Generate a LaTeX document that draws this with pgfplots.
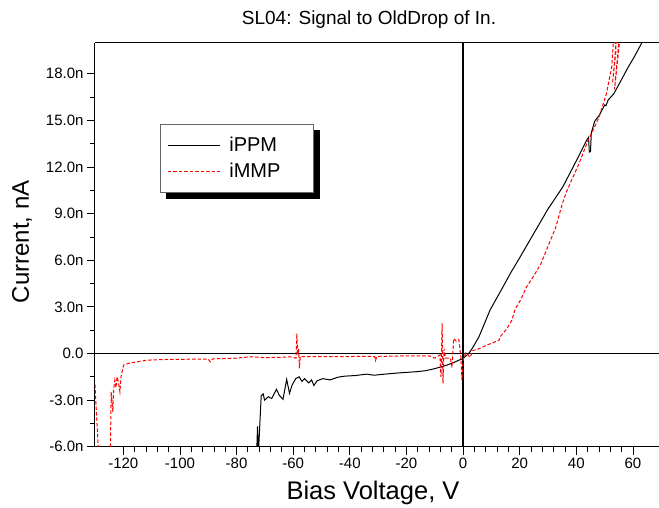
\documentclass[border=0pt]{standalone}
\usepackage{fontspec}
\setmainfont{Liberation Sans}
\usepackage{pgfplots}
\pgfplotsset{compat=1.18}
\usetikzlibrary{calc}
\pgfdeclarelayer{background}
\pgfsetlayers{background,main}

\pgfplotstableread{
v i
-73.0 -7
-72.6 -4.7
-72.3 -6.5
-71.3 -2.72
-70.6 -2.6
-70.1 -3.0
-68.8 -2.79
-67.6 -2.9
-65.9 -2.31
-64.9 -2.7
-63.6 -2.95
-62.3 -1.67
-61.3 -2.57
-60.4 -2.04
-59.1 -1.62
-57.9 -1.50
-56.9 -1.80
-56.0 -1.62
-54.5 -1.90
-53.5 -1.70
-52.7 -2.06
-51.5 -1.75
-49.5 -1.62
-47.0 -1.70
-44.0 -1.52
-41.8 -1.46
-38.0 -1.42
-34.1 -1.33
-31.5 -1.40
-27.0 -1.32
-22.6 -1.25
-17.0 -1.18
-13.6 -1.12
-10.5 -1.00
-8.5 -0.90
-6.0 -0.77
-3.3 -0.58
0.0 -0.32
2.0 0.0
3.5 0.4
5.6 1.07
7.5 1.9
9.5 2.78
12.0 3.6
14.6 4.45
17.0 5.25
19.8 6.1
25.6 7.92
30.0 9.3
35.2 10.71
40.0 12.4
43.6 13.71
44.3 13.9
44.6 12.96
45.0 13.0
45.3 14.2
46.5 14.95
48.0 15.3
49.3 15.74
50.0 16.0
50.5 15.95
51.2 16.3
53.2 16.71
55.0 17.3
58.3 18.42
60.5 19.1
63.3 20.05
}\ppm

\pgfplotstableread{
v i
-130.0 -2.0
-129.3 -4.5
-128.6 -7
-124.6 -7
-124.3 -2.47
-123.7 -3.75
-123.4 -2.3
-123.0 -1.72
-122.6 -2.2
-122.2 -1.50
-121.7 -1.9
-121.2 -2.47
-120.8 -1.5
-119.9 -0.75
-118.2 -0.64
-115.2 -0.54
-111.7 -0.43
-105.8 -0.39
-96.4 -0.37
-90.0 -0.37
-89.3 -0.54
-88.5 -0.35
-80.0 -0.30
-75.2 -0.21
-70.0 -0.27
-65.0 -0.25
-61.0 -0.22
-59.0 -0.30
-58.7 1.29
-58.4 -0.1
-58.1 0.3
-57.8 -0.96
-57.5 -0.2
-50.0 -0.20
-40.0 -0.20
-35.0 -0.18
-31.2 -0.20
-30.9 -0.45
-30.5 -0.20
-20.0 -0.15
-12.0 -0.15
-10.0 -0.30
-8.2 -0.10
-7.8 -1.5
-7.4 1.93
-7.1 -1.93
-6.7 0.3
-6.2 -0.3
-4.5 -0.3
-3.9 -0.9
-3.3 0.96
-2.5 0.8
-1.5 0.9
-0.8 -0.2
-0.4 -1.72
0.0 -0.4
1.0 0.05
2.5 -0.25
3.5 0.2
5.0 0.25
8.3 0.53
12.7 0.85
13.0 1.05
15.5 1.6
17.2 2.14
18.5 2.89
20.5 3.5
22.4 4.28
25.0 5.0
27.5 5.78
30.0 6.9
32.7 8.1
35.0 9.6
36.5 10.4
40.9 12.2
44.1 13.7
46.0 14.4
48.0 15.2
50.6 16.7
52.5 18.42
53.4 21.0
54.0 19.5
52.8 17.4
54.6 21.0
55.0 20.0
53.5 17.0
55.8 21.0
}\mmp

\begin{document}
\begin{tikzpicture}
\begin{axis}[
  width=564pt, height=404pt, scale only axis,
  xmin=-130, xmax=69.2, ymin=-6, ymax=20,
  axis x line*=box, axis y line*=left,
  axis line style={line width=1pt, black},
  xtick={-120,-100,...,60},
  xticklabels={-120,-100,-80,-60,-40,-20,0,20,40,60},
  minor x tick num=4,
  ytick={-6,-3,0,3,6,9,12,15,18},
  yticklabels={-6.0n,-3.0n,0.0,3.0n,6.0n,9.0n,12.0n,15.0n,18.0n},
  minor y tick num=1,
  tick align=outside, tick pos=left,
  major tick length=8pt, minor tick length=5pt,
  every tick/.style={black, line width=0.8pt},
  ticklabel style={font=\fontsize{15}{17}\selectfont},
  title={SL04: Signal to OldDrop of In.},
  every axis title/.style={at={(rel axis cs:0.5,1)}, anchor=center, xshift=-8pt, yshift=22.7pt, font=\fontsize{19}{21}\selectfont},
  xlabel={Bias Voltage, V},
  every axis x label/.style={at={(rel axis cs:0.5,0)}, anchor=center, xshift=-4pt, yshift=-46.3pt, font=\fontsize{25.5}{28}\selectfont},
  ylabel={Current, nA},
  every axis y label/.style={at={(rel axis cs:0,0.5)}, anchor=center, xshift=-73pt, yshift=3pt, rotate=90, font=\fontsize{24}{26}\selectfont},
  legend style={name=leg, at={(rel axis cs:0.1152,0.7988)}, anchor=north west, draw=black!60, line width=0.8pt, fill=white,
    font=\fontsize{20}{22}\selectfont, inner xsep=7pt, inner ysep=11pt, row sep=6pt},
  legend cell align=left,
  legend image code/.code={\draw[#1] (0pt,0pt) -- (52pt,0pt);},
]
\addplot[black, line width=1.2pt, forget plot] coordinates {(0,-6) (0,20)};
\addplot[black, line width=1.2pt, forget plot] coordinates {(-130,0) (69.2,0)};
\addplot[black, line width=1pt] table[x=v, y=i] {\ppm};
\addlegendentry{\hspace*{7pt}iPPM\hspace*{24pt}}
\addplot[red, line width=1pt, dash pattern=on 3.5pt off 2pt] table[x=v, y=i] {\mmp};
\addlegendentry{\hspace*{7pt}iMMP\hspace*{24pt}}
\end{axis}
\begin{pgfonlayer}{background}
\fill[black] ($(leg.south west)+(6.5pt,-6.5pt)$) rectangle ($(leg.north east)+(6.5pt,-6.5pt)$);
\end{pgfonlayer}
\pgfresetboundingbox
\path ($(current axis.south west)+(-95pt,-61.3pt)$) rectangle ($(current axis.north east)+(0pt,42.7pt)$);
\end{tikzpicture}
\end{document}
